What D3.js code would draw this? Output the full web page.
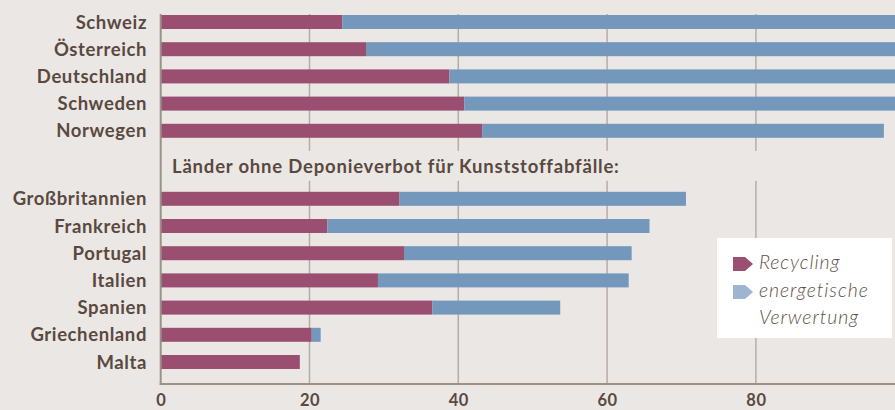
<!DOCTYPE html>
<html>
<head>
<meta charset="utf-8">
<script src="https://cdn.jsdelivr.net/npm/d3@7"></script>
<style>
  body { margin: 0; background: #ebe7e4; }
  svg { display: block; }
</style>
</head>
<body>
<svg width="895" height="410"></svg>
<script>
// Anteile in Prozent
var countries = ["Schweiz", "Österreich", "Deutschland", "Schweden", "Norwegen",
                 "Großbritannien", "Frankreich", "Portugal", "Italien", "Spanien", "Griechenland", "Malta"];
var groups = [0, 0, 0, 0, 0, 1, 1, 1, 1, 1, 1, 1];
var recycling = [24.4, 27.6, 38.8, 40.8, 43.2, 32.1, 22.4, 32.7, 29.2, 36.5, 20.3, 18.7];
var energetisch = [75.6, 72.4, 61.2, 59.2, 54.0, 38.5, 43.3, 30.6, 33.7, 17.2, 1.2, 0];
var xTicks = [0, 20, 40, 60, 80];
var groupHeader = "Länder ohne Deponieverbot für Kunststoffabfälle:";
var legendLabels = [["Recycling"], ["energetische", "Verwertung"]];

var colRecycling = "#9a4f70",
    colEnergie = "#7498bb",
    colEnergieLegend = "#9db5d1",
    textColor = "#594940",
    bg = "#ebe7e4";

var svg = d3.select("svg"),
    width = +svg.attr("width"),
    height = +svg.attr("height");

svg.append("rect").attr("width", width).attr("height", height).attr("fill", bg);

var xScale = d3.scaleLinear().domain([0, 100]).range([160.7, 904.7]);
// zweite Gruppe um 1.5 Zeilen nach unten versetzt (Platz fuer Ueberschrift)
var yScale = d3.scaleLinear().domain([0, 12.5]).range([15, 355]);
var barH = 14;
var axisY = 384;

var data = countries.map(function (c, i) {
    return { country: c, row: i + groups[i] * 1.5, rec: recycling[i], en: energetisch[i] };
});

// Gitterlinien
svg.append("g")
    .selectAll("line")
    .data(xTicks.slice(1))
    .enter().append("line")
    .attr("x1", d => xScale(d)).attr("x2", d => xScale(d))
    .attr("y1", 14).attr("y2", axisY)
    .attr("stroke", "#b7aca4").attr("stroke-width", 1.5);

// Ueberschrift der zweiten Gruppe (Hintergrund verdeckt die Gitterlinien)
var headerY = (yScale(4) + yScale(6.5)) / 2 + barH / 2;
svg.append("rect")
    .attr("x", xScale(0) + 2).attr("y", headerY - 14)
    .attr("width", width).attr("height", 30)
    .attr("fill", bg);
svg.append("text")
    .attr("x", 172).attr("y", headerY + 8)
    .attr("fill", textColor)
    .style("font-family", "Lato")
    .style("font-weight", "bold")
    .style("font-size", "18.5px")
    .style("letter-spacing", "0.8px")
    .text(groupHeader);

// Balken
var bars = svg.append("g").selectAll("g")
    .data(data)
    .enter().append("g");

bars.append("rect")
    .attr("x", xScale(0))
    .attr("y", d => yScale(d.row))
    .attr("width", d => xScale(d.rec) - xScale(0))
    .attr("height", barH)
    .attr("fill", colRecycling);

bars.filter(d => d.en > 0).append("rect")
    .attr("x", d => xScale(d.rec))
    .attr("y", d => yScale(d.row))
    .attr("width", d => xScale(d.rec + d.en) - xScale(d.rec))
    .attr("height", barH)
    .attr("fill", colEnergie);

bars.append("text")
    .attr("x", 147)
    .attr("y", d => yScale(d.row) + barH / 2)
    .attr("dy", "0.36em")
    .attr("text-anchor", "end")
    .attr("fill", textColor)
    .style("font-family", "Lato")
    .style("font-weight", "bold")
    .style("font-size", "18.5px")
    .style("letter-spacing", "0.6px")
    .text(d => d.country);

// Achsen
svg.append("line")
    .attr("x1", xScale(0)).attr("x2", xScale(0))
    .attr("y1", 14).attr("y2", axisY + 1)
    .attr("stroke", "#9c9189").attr("stroke-width", 2);
svg.append("line")
    .attr("x1", xScale(0) - 1).attr("x2", width)
    .attr("y1", axisY).attr("y2", axisY)
    .attr("stroke", "#9c9189").attr("stroke-width", 2);

var xAxis = svg.append("g")
    .attr("transform", "translate(0," + axisY + ")")
    .call(d3.axisBottom(xScale).tickValues(xTicks).tickSize(0).tickPadding(0));
xAxis.select(".domain").remove();
xAxis.selectAll("text")
    .attr("y", 21.5)
    .attr("dy", 0)
    .attr("fill", textColor)
    .style("font-family", "Lato")
    .style("font-weight", "bold")
    .style("font-size", "16.5px")
    .style("letter-spacing", "0.5px");

// Legende
var legend = svg.append("g").attr("transform", "translate(717,238)");
legend.append("rect")
    .attr("width", 175).attr("height", 100)
    .attr("fill", "#ffffff");

var marker = "M0,0H12L20,7L12,14H0Z";
var legendColors = [colRecycling, colEnergieLegend];
legendLabels.forEach(function (lines, i) {
    var y0 = 19 + i * 28;
    legend.append("path")
        .attr("d", marker)
        .attr("transform", "translate(16," + y0 + ")")
        .attr("fill", legendColors[i]);
    lines.forEach(function (l, j) {
        legend.append("text")
            .attr("x", 42)
            .attr("y", y0 + 12 + j * 27)
            .attr("fill", "#5f5049")
            .style("font-family", "Lato")
            .style("font-style", "italic")
            .style("font-weight", 300)
            .style("font-size", "19.5px")
            .style("letter-spacing", "0.9px")
            .text(l);
    });
});
</script>
</body>
</html>
